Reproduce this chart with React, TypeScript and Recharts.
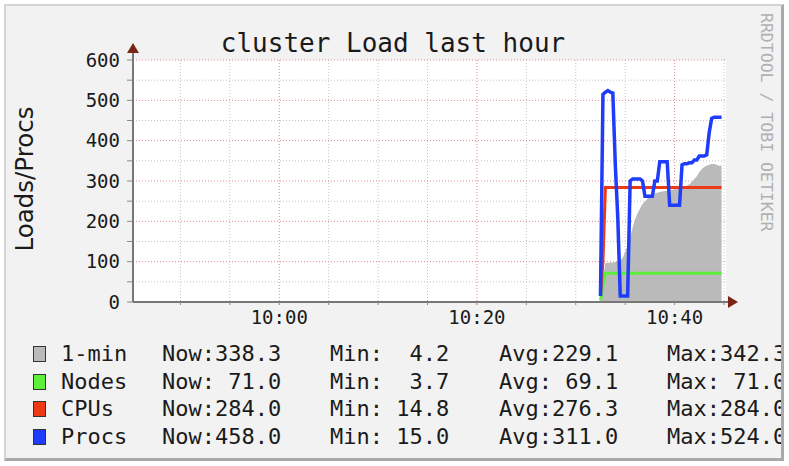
import {
  ComposedChart,
  Area,
  Line,
  XAxis,
  YAxis,
  CartesianGrid,
  ReferenceDot,
} from 'recharts';

// minutes after 10:00
const MINUTES = [
  32.5, 32.75, 33, 33.25, 33.5, 33.75, 34, 34.25, 34.5, 34.75,
  35, 35.25, 35.5, 35.75, 36, 36.25, 36.5, 36.75, 37, 37.25,
  37.5, 37.75, 38, 38.25, 38.5, 38.75, 39, 39.25, 39.5, 39.75,
  40, 40.25, 40.5, 40.75, 41, 41.25, 41.5, 41.75, 42, 42.25,
  42.5, 42.75, 43, 43.25, 43.5, 43.75, 44, 44.25, 44.5, 44.75,
];

const LOAD_1MIN = [
  4.2, 60, 97, 97, 98, 98, 99, 100, 102, 110,
  125, 140, 158, 185, 205, 220, 232, 243, 250, 256,
  262, 266, 269, 271, 273, 274, 275, 276, 277, 278,
  279, 280, 281, 283, 286, 288, 292, 298, 305, 312,
  322, 330, 335, 338, 340, 342, 342, 340, 338, 338.3,
];

const NODES = [
  3.7, 40, 71, 71, 71, 71, 71, 71, 71, 71,
  71, 71, 71, 71, 71, 71, 71, 71, 71, 71,
  71, 71, 71, 71, 71, 71, 71, 71, 71, 71,
  71, 71, 71, 71, 71, 71, 71, 71, 71, 71,
  71, 71, 71, 71, 71, 71, 71, 71, 71, 71,
];

const CPUS = [
  14.8, 100, 284, 284, 284, 284, 284, 284, 284, 284,
  284, 284, 284, 284, 284, 284, 284, 284, 284, 284,
  284, 284, 284, 284, 284, 284, 284, 284, 284, 284,
  284, 284, 284, 284, 284, 284, 284, 284, 284, 284,
  284, 284, 284, 284, 284, 284, 284, 284, 284, 284,
];

const PROCS = [
  15, 515, 520, 524, 520, 518, 340, 210, 15, 15,
  15, 15, 300, 305, 305, 305, 305, 300, 262, 262,
  262, 262, 300, 300, 348, 348, 348, 348, 240, 240,
  240, 240, 240, 340, 343, 343, 345, 345, 352, 352,
  362, 362, 362, 365, 420, 455, 458, 458, 458, 458,
];

const X_DOMAIN = [-14.8, 45.2];
const X_TICKS = [-10, -5, 0, 5, 10, 15, 20, 25, 30, 35, 40, 45];
const X_LABELED = [0, 20, 40];
const Y_TICKS = [0, 50, 100, 150, 200, 250, 300, 350, 400, 450, 500, 550, 600];

const NAMES = ['1-min', 'Nodes', 'CPUs', 'Procs'];
const COLORS = ['#bababa', '#5cf03a', '#ee3a14', '#1e3cfa'];
const NOW = [338.3, 71.0, 284.0, 458.0];
const MIN = [4.2, 3.7, 14.8, 15.0];
const AVG = [229.1, 69.1, 276.3, 311.0];
const MAX = [342.3, 71.0, 284.0, 524.0];

const MONO = '"DejaVu Sans Mono", monospace';
const ARROW = '#7a2416';

const data = MINUTES.map((m, i) => ({
  m,
  load: LOAD_1MIN[i],
  nodes: NODES[i],
  cpus: CPUS[i],
  procs: PROCS[i],
}));

const fmt = (v: number) => v.toFixed(1).padStart(5, ' ');

function UpArrow(props: any) {
  const { cx, cy } = props;
  return (
    <g>
      <line x1={cx} y1={cy} x2={cx} y2={cy - 10} stroke="#777" strokeWidth={2} />
      <polygon points={`${cx - 6},${cy - 7} ${cx + 6},${cy - 7} ${cx},${cy - 17}`} fill={ARROW} />
    </g>
  );
}

function RightArrow(props: any) {
  const { cx, cy } = props;
  return (
    <g>
      <line x1={cx} y1={cy} x2={cx + 3} y2={cy} stroke="#777" strokeWidth={2} />
      <polygon points={`${cx + 2},${cy - 6} ${cx + 2},${cy + 6} ${cx + 12},${cy}`} fill={ARROW} />
    </g>
  );
}

export default function App() {
  return (
    <div style={{ position: 'absolute', left: 0, top: 0, width: 789, height: 466, background: '#fff' }}>
      <div
        style={{
          position: 'absolute',
          left: 4,
          top: 4,
          width: 775,
          height: 452,
          background: '#f2f2f2',
          borderTop: '2px solid #d4d4d4',
          borderLeft: '2px solid #d4d4d4',
          borderRight: '3px solid #a9a9a9',
          borderBottom: '3px solid #a9a9a9',
        }}
      />
      <div
        style={{
          position: 'absolute',
          left: 0,
          width: 786,
          top: 28,
          textAlign: 'center',
          fontFamily: MONO,
          fontSize: 26,
          color: '#1a1a1a',
          lineHeight: '30px',
        }}
      >
        cluster Load last hour
      </div>
      <div
        style={{
          position: 'absolute',
          left: 24,
          top: 179,
          transform: 'translate(-50%, -50%) rotate(-90deg)',
          fontFamily: '"DejaVu Sans", sans-serif',
          fontSize: 24.5,
          color: '#1a1a1a',
          whiteSpace: 'nowrap',
        }}
      >
        Loads/Procs
      </div>
      <div
        style={{
          position: 'absolute',
          left: 757,
          top: 13,
          writingMode: 'vertical-rl',
          fontFamily: MONO,
          fontSize: 16.5,
          color: '#b0b0b0',
          whiteSpace: 'nowrap',
          lineHeight: '18px',
        }}
      >
        RRDTOOL / TOBI OETIKER
      </div>
      <div style={{ position: 'absolute', left: 0, top: 0 }}>
        <ComposedChart
          width={789}
          height={466}
          data={data}
          margin={{ top: 60, right: 63, bottom: 134, left: 73 }}
        >
          <CartesianGrid
            fill="#ffffff"
            stroke="#c4c4c4"
            strokeDasharray="1 2"
            horizontalValues={Y_TICKS.filter((v) => v % 100 !== 0)}
            verticalValues={X_TICKS.filter((v) => !X_LABELED.includes(v))}
          />
          <XAxis
            dataKey="m"
            type="number"
            domain={X_DOMAIN}
            allowDataOverflow
            ticks={X_TICKS}
            tickFormatter={(v: number) => (X_LABELED.includes(v) ? `10:${String(v).padStart(2, '0')}` : '')}
            height={30}
            tickSize={3}
            tickMargin={6}
            interval={0}
            axisLine={{ stroke: '#777', strokeWidth: 2 }}
            tickLine={{ stroke: '#888' }}
            tick={{ fontFamily: MONO, fontSize: 19, fill: '#1a1a1a' }}
          />
          <YAxis
            type="number"
            domain={[0, 600]}
            ticks={Y_TICKS}
            tickFormatter={(v: number) => (v % 100 === 0 ? String(v) : '')}
            width={60}
            tickSize={6}
            tickMargin={7}
            interval={0}
            axisLine={{ stroke: '#777', strokeWidth: 2 }}
            tickLine={{ stroke: '#888' }}
            tick={{ fontFamily: MONO, fontSize: 19, fill: '#1a1a1a' }}
          />
          <Area
            dataKey="load"
            type="linear"
            stroke="none"
            fill={COLORS[0]}
            fillOpacity={1}
            isAnimationActive={false}
          />
          <CartesianGrid
            stroke="#e58a8a"
            strokeDasharray="1 2"
            horizontalValues={Y_TICKS.filter((v) => v % 100 === 0 && v > 0)}
            verticalValues={X_LABELED}
          />
          <Line dataKey="nodes" type="linear" stroke={COLORS[1]} strokeWidth={3} dot={false} isAnimationActive={false} />
          <Line dataKey="cpus" type="linear" stroke={COLORS[2]} strokeWidth={3} dot={false} isAnimationActive={false} />
          <Line dataKey="procs" type="linear" stroke={COLORS[3]} strokeWidth={3.5} dot={false} isAnimationActive={false} />
          <ReferenceDot x={X_DOMAIN[0]} y={600} ifOverflow="visible" shape={UpArrow} />
          <ReferenceDot x={X_DOMAIN[1]} y={0} ifOverflow="visible" shape={RightArrow} />
        </ComposedChart>
      </div>
      <div
        style={{
          position: 'absolute',
          left: 0,
          top: 0,
          width: 781,
          height: 466,
          overflow: 'hidden',
          fontFamily: MONO,
          fontSize: 22,
          color: '#1a1a1a',
        }}
      >
        {NAMES.map((name, i) => (
          <div
            key={name}
            style={{ position: 'absolute', left: 0, top: 340 + i * 27.5, height: 27, width: 900, whiteSpace: 'pre' }}
          >
            <span
              style={{
                position: 'absolute',
                left: 33,
                top: 6,
                width: 11,
                height: 14,
                background: COLORS[i],
                border: '1.5px solid #333',
              }}
            />
            <span style={{ position: 'absolute', left: 61, top: 0, lineHeight: '27px' }}>{name}</span>
            <span style={{ position: 'absolute', left: 162, top: 0, lineHeight: '27px' }}>{`Now:${fmt(NOW[i])}`}</span>
            <span style={{ position: 'absolute', left: 330, top: 0, lineHeight: '27px' }}>{`Min:${fmt(MIN[i])}`}</span>
            <span style={{ position: 'absolute', left: 499, top: 0, lineHeight: '27px' }}>{`Avg:${fmt(AVG[i])}`}</span>
            <span style={{ position: 'absolute', left: 667, top: 0, lineHeight: '27px' }}>{`Max:${fmt(MAX[i])}`}</span>
          </div>
        ))}
      </div>
    </div>
  );
}
